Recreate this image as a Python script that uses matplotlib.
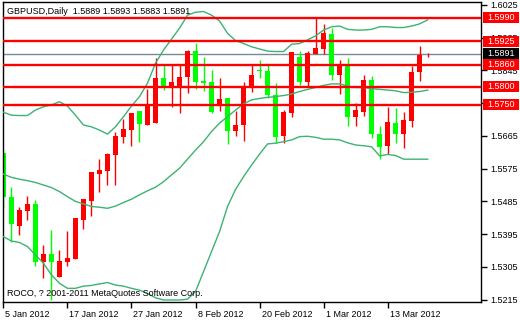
import matplotlib
matplotlib.use('Agg')
import matplotlib.pyplot as plt
import matplotlib.transforms as mtransforms
from matplotlib.patches import Rectangle

plt.rcParams['font.family'] = ['Liberation Sans', 'DejaVu Sans']

# daily GBPUSD candles, 5 Jan 2012 .. 20 Mar 2012
opens = [1.5617, 1.5498, 1.5417, 1.5459, 1.5478, 1.5319, 1.5340, 1.5278, 1.5319, 1.5326,
         1.5434, 1.5487, 1.5559, 1.5569, 1.5613, 1.5663, 1.5681, 1.5733, 1.5695, 1.5701,
         1.5823, 1.5799, 1.5799, 1.5826, 1.5899, 1.5816, 1.5813, 1.5750, 1.5768, 1.5679,
         1.5695, 1.5799, 1.5846, 1.5844, 1.5777, 1.5666, 1.5729, 1.5881, 1.5814, 1.5890,
         1.5903, 1.5945, 1.5832, 1.5858, 1.5716, 1.5732, 1.5819, 1.5670, 1.5638, 1.5700,
         1.5670, 1.5707, 1.5842, 1.5889]
highs = [1.5626, 1.5525, 1.5469, 1.5500, 1.5489, 1.5365, 1.5406, 1.5351, 1.5404, 1.5438,
         1.5491, 1.5565, 1.5602, 1.5617, 1.5677, 1.5711, 1.5727, 1.5733, 1.5793, 1.5878,
         1.5860, 1.5860, 1.5860, 1.5901, 1.5921, 1.5883, 1.5846, 1.5823, 1.5770, 1.5733,
         1.5814, 1.5859, 1.5875, 1.5859, 1.5811, 1.5736, 1.5897, 1.5899, 1.5899, 1.5988,
         1.5973, 1.5962, 1.5874, 1.5878, 1.5755, 1.5832, 1.5830, 1.5692, 1.5744, 1.5741,
         1.5732, 1.5857, 1.5912, 1.5893]
lows = [1.5466, 1.5372, 1.5393, 1.5434, 1.5306, 1.5275, 1.5214, 1.5276, 1.5306, 1.5326,
        1.5408, 1.5445, 1.5512, 1.5530, 1.5530, 1.5645, 1.5637, 1.5649, 1.5695, 1.5701,
        1.5791, 1.5745, 1.5727, 1.5784, 1.5793, 1.5789, 1.5727, 1.5734, 1.5642, 1.5665,
        1.5652, 1.5787, 1.5825, 1.5768, 1.5645, 1.5646, 1.5718, 1.5805, 1.5799, 1.5890,
        1.5890, 1.5819, 1.5780, 1.5692, 1.5692, 1.5720, 1.5658, 1.5601, 1.5615, 1.5646,
        1.5631, 1.5690, 1.5817, 1.5883]
closes = [1.5498, 1.5423, 1.5461, 1.5478, 1.5319, 1.5340, 1.5319, 1.5321, 1.5330, 1.5438,
          1.5491, 1.5565, 1.5571, 1.5615, 1.5665, 1.5684, 1.5727, 1.5698, 1.5752, 1.5823,
          1.5802, 1.5813, 1.5826, 1.5899, 1.5813, 1.5811, 1.5732, 1.5766, 1.5679, 1.5695,
          1.5799, 1.5832, 1.5843, 1.5777, 1.5663, 1.5732, 1.5897, 1.5814, 1.5894, 1.5906,
          1.5949, 1.5832, 1.5858, 1.5718, 1.5736, 1.5819, 1.5670, 1.5635, 1.5702, 1.5670,
          1.5709, 1.5841, 1.5887, 1.5891]

# Bollinger bands
bb_upper = [1.5730, 1.5722, 1.5721, 1.5721, 1.5736, 1.5745, 1.5750, 1.5759, 1.5747, 1.5722,
            1.5695, 1.5690, 1.5681, 1.5670, 1.5690, 1.5718, 1.5747, 1.5773, 1.5810, 1.5865,
            1.5901, 1.5931, 1.5961, 1.5997, 1.6005, 1.6007, 1.5997, 1.5981, 1.5947, 1.5927,
            1.5919, 1.5910, 1.5904, 1.5898, 1.5897, 1.5897, 1.5917, 1.5919, 1.5929, 1.5940,
            1.5956, 1.5965, 1.5967, 1.5958, 1.5956, 1.5956, 1.5958, 1.5965, 1.5965, 1.5963,
            1.5963, 1.5967, 1.5973, 1.5984]
bb_middle = [1.5560, 1.5551, 1.5546, 1.5542, 1.5537, 1.5530, 1.5523, 1.5512, 1.5498, 1.5485,
             1.5478, 1.5471, 1.5469, 1.5466, 1.5472, 1.5482, 1.5491, 1.5503, 1.5514, 1.5524,
             1.5539, 1.5558, 1.5576, 1.5601, 1.5626, 1.5649, 1.5677, 1.5700, 1.5718, 1.5736,
             1.5753, 1.5764, 1.5768, 1.5771, 1.5773, 1.5776, 1.5780, 1.5787, 1.5793, 1.5798,
             1.5804, 1.5808, 1.5808, 1.5802, 1.5798, 1.5798, 1.5795, 1.5793, 1.5791, 1.5789,
             1.5784, 1.5785, 1.5787, 1.5791]
bb_lower = [1.5388, 1.5376, 1.5372, 1.5361, 1.5338, 1.5315, 1.5283, 1.5260, 1.5246, 1.5246,
            1.5252, 1.5254, 1.5258, 1.5262, 1.5255, 1.5252, 1.5246, 1.5241, 1.5232, 1.5220,
            1.5214, 1.5214, 1.5214, 1.5216, 1.5237, 1.5292, 1.5347, 1.5402, 1.5471, 1.5518,
            1.5553, 1.5585, 1.5615, 1.5643, 1.5645, 1.5649, 1.5654, 1.5663, 1.5664, 1.5661,
            1.5656, 1.5656, 1.5654, 1.5646, 1.5640, 1.5638, 1.5635, 1.5610, 1.5614, 1.5611,
            1.5601, 1.5601, 1.5601, 1.5601]

levels = [1.5990, 1.5925, 1.5860, 1.5800, 1.5750]
last_price = 1.5891
price_ticks = [1.5215, 1.5305, 1.5395, 1.5485, 1.5575, 1.5665, 1.5755, 1.5845, 1.5935, 1.6025]
date_pos = [0, 8, 16, 24, 32, 40, 48]
date_labels = ['5 Jan 2012', '17 Jan 2012', '27 Jan 2012', '8 Feb 2012',
               '20 Feb 2012', '1 Mar 2012', '13 Mar 2012']

FS = 6.5
fig = plt.figure(figsize=(5.2, 3.2), dpi=100)
ax = fig.add_axes([3 / 520, 18 / 320, 478 / 520, 300 / 320])
ymin, ymax = 1.52084, 1.60331
ax.set_xlim(-0.05, 59.66)
ax.set_ylim(ymin, ymax)

x = list(range(len(opens)))
for i in x:
    o, h, l, c = opens[i], highs[i], lows[i], closes[i]
    col = '#ff0000' if c >= o else '#00ff00'
    ax.vlines(i, l, h, color=col, lw=1, zorder=2)
    body = max(abs(c - o), 0.00025)
    ax.bar(i, body, bottom=min(o, c), width=0.62, color=col, lw=0, zorder=2)

for band in (bb_upper, bb_middle, bb_lower):
    ax.plot(x, band, color='#3cb371', lw=1, zorder=3)

for lv in levels:
    ax.axhline(lv, color='#ff0000', lw=1.7, zorder=4)
ax.axhline(last_price, color='#778899', lw=1, zorder=1)

ax.yaxis.tick_right()
ax.set_yticks(price_ticks)
ax.set_yticklabels(['%.4f' % t for t in price_ticks])
ax.tick_params(axis='y', direction='out', length=4, width=1, pad=3, labelsize=FS, colors='black')
ax.set_xticks(date_pos)
ax.set_xticklabels(date_labels, ha='left')
ax.tick_params(axis='x', direction='out', length=4, width=1, pad=2, labelsize=FS, colors='black')
offset = mtransforms.ScaledTranslation(2 / 100, 0, fig.dpi_scale_trans)
for lab in ax.get_xticklabels():
    lab.set_transform(lab.get_transform() + offset)
for s in ax.spines.values():
    s.set_color('black')
    s.set_linewidth(1)

# price boxes on the right axis
bw, bh = 36 / 478, 11 / 300
for lv, fc in [(l, '#ff0000') for l in levels] + [(last_price, 'black')]:
    yf = (lv - ymin) / (ymax - ymin)
    ax.add_patch(Rectangle((480 / 478, yf - bh / 2), bw, bh, transform=ax.transAxes,
                           fc=fc, ec='none', clip_on=False, zorder=5))
    ax.text(480 / 478 + bw / 2, yf, '%.4f' % lv, transform=ax.transAxes, color='white',
            fontsize=FS, ha='center', va='center', zorder=6, clip_on=False)

fig.text(7 / 520, 1 - 11 / 320, 'GBPUSD,Daily  1.5889 1.5893 1.5883 1.5891',
         fontsize=FS, va='center', ha='left')
fig.text(7 / 520, 1 - 293 / 320, 'ROCO, ? 2001-2011 MetaQuotes Software Corp.',
         fontsize=FS, va='center', ha='left')

fig.savefig('out.png', dpi=100, facecolor='white')
